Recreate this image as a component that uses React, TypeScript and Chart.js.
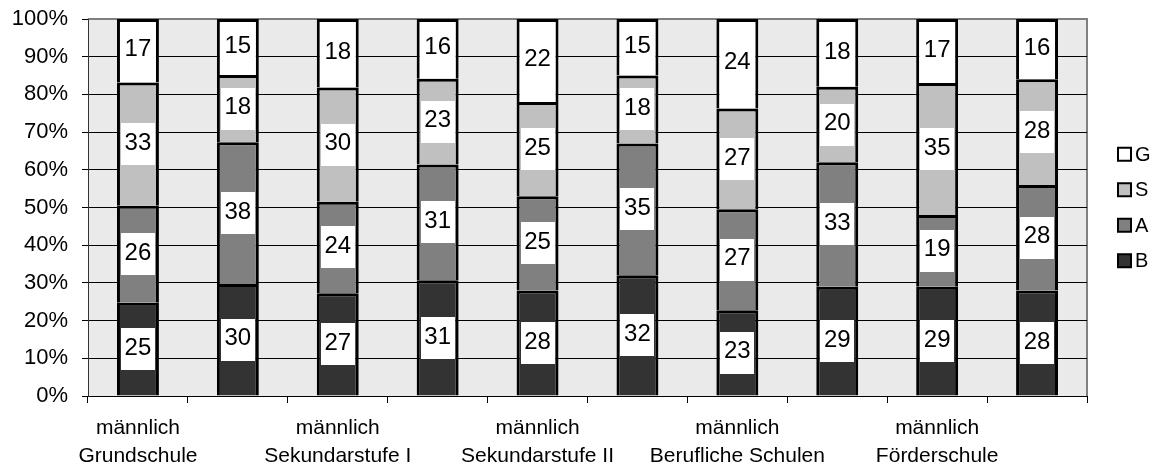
import React, { useEffect, useRef } from "react";
import { Chart, registerables } from "chart.js";

Chart.register(...registerables);

// Categories: each school type, split by gender
const schools = ["Grundschule", "Sekundarstufe I", "Sekundarstufe II", "Berufliche Schulen", "Förderschule"];
const genders = ["männlich", "weiblich"];
const categories: string[][] = schools.flatMap((s) => genders.map((g) => [g, s]));

// Shares per category (percent, rounded)
const seriesNames = ["B", "A", "S", "G"];
const valuesB = [25, 30, 27, 31, 28, 32, 23, 29, 29, 28];
const valuesA = [26, 38, 24, 31, 25, 35, 27, 33, 19, 28];
const valuesS = [33, 18, 30, 23, 25, 18, 27, 20, 35, 28];
const valuesG = [17, 15, 18, 16, 22, 15, 24, 18, 17, 16];
const seriesValues = [valuesB, valuesA, valuesS, valuesG];
const seriesColors = ["#333333", "#808080", "#c0c0c0", "#ffffff"];

const FONT = "'Liberation Sans', Arial, sans-serif";

// 100% stacking: each column is scaled to its own total
const totals = categories.map((_, i) => seriesValues.reduce((s, v) => s + v[i], 0));
const percentOf = (vals: number[]) => vals.map((v, i) => (v / totals[i]) * 100);

const plotBackground = {
  id: "plotBackground",
  beforeDraw(chart: any) {
    const { ctx, chartArea: a } = chart;
    ctx.save();
    ctx.fillStyle = "#eaeaea";
    ctx.fillRect(a.left, a.top, a.right - a.left, a.bottom - a.top);
    ctx.strokeStyle = "#808080";
    ctx.lineWidth = 2;
    ctx.beginPath();
    ctx.moveTo(a.left, a.top);
    ctx.lineTo(a.right, a.top);
    ctx.lineTo(a.right, a.bottom);
    ctx.stroke();
    ctx.restore();
  },
};

const valueBoxes = {
  id: "valueBoxes",
  afterDatasetsDraw(chart: any) {
    const { ctx } = chart;
    ctx.save();
    ctx.font = `24px ${FONT}`;
    ctx.textAlign = "center";
    ctx.textBaseline = "middle";
    chart.data.datasets.forEach((ds: any, di: number) => {
      const meta = chart.getDatasetMeta(di);
      meta.data.forEach((el: any, i: number) => {
        const c = el.getCenterPoint();
        const w = 34;
        const h = 42;
        ctx.fillStyle = "#ffffff";
        ctx.fillRect(Math.round(c.x - w / 2), Math.round(c.y - h / 2), w, h);
        ctx.fillStyle = "#000000";
        ctx.fillText(String(seriesValues[di][i]), c.x, c.y - 1);
      });
    });
    ctx.restore();
  },
};

const sideLegend = {
  id: "sideLegend",
  afterDraw(chart: any) {
    const { ctx, chartArea: a } = chart;
    const mid = (a.top + a.bottom) / 2;
    const step = 35.5;
    const n = seriesNames.length;
    ctx.save();
    ctx.font = `20px ${FONT}`;
    ctx.textAlign = "left";
    ctx.textBaseline = "middle";
    for (let k = 0; k < n; k++) {
      const di = n - 1 - k;
      const y = mid + (k - (n - 1) / 2) * step;
      const bx = a.right + 31;
      ctx.fillStyle = seriesColors[di];
      ctx.fillRect(bx, y - 6.5, 13, 13);
      ctx.strokeStyle = "#000000";
      ctx.lineWidth = 2;
      ctx.strokeRect(bx, y - 6.5, 13, 13);
      ctx.fillStyle = "#000000";
      ctx.fillText(seriesNames[di], bx + 17, y + 1);
    }
    ctx.restore();
  },
};

export default function App() {
  const canvasRef = useRef<HTMLCanvasElement | null>(null);

  useEffect(() => {
    if (!canvasRef.current) return;
    const chart = new Chart(canvasRef.current, {
      type: "bar",
      data: {
        labels: categories,
        datasets: seriesNames.map((name, di) => ({
          label: name,
          data: percentOf(seriesValues[di]),
          backgroundColor: seriesColors[di],
          borderColor: "#000000",
          borderWidth: 3,
          borderSkipped: "start",
          barPercentage: 0.42,
          categoryPercentage: 1,
        })),
      },
      options: {
        responsive: false,
        animation: false,
        layout: { padding: { top: 19, right: 75, left: 0, bottom: 0 } },
        plugins: {
          legend: { display: false },
          tooltip: { enabled: false },
        },
        scales: {
          x: {
            stacked: true,
            afterFit: (scale: any) => {
              scale.height = 71;
              scale.paddingLeft = 0;
              scale.paddingRight = 0;
            },
            grid: {
              offset: true,
              drawOnChartArea: false,
              drawTicks: true,
              tickLength: 7,
              color: "#000000",
            },
            border: { color: "#000000", width: 1 },
            ticks: {
              color: "#000000",
              font: { family: FONT, size: 21, lineHeight: 1.3 },
              maxRotation: 0,
              minRotation: 0,
              autoSkip: false,
              padding: 12,
              callback: function (this: any, _v: any, index: number) {
                return index % 2 === 0 ? categories[index] : "";
              },
            },
          },
          y: {
            stacked: true,
            min: 0,
            max: 100,
            afterFit: (scale: any) => {
              scale.width = 88;
              scale.paddingTop = 0;
              scale.paddingBottom = 0;
            },
            grid: {
              color: (c: any) => (c.tick && c.tick.value === 100 ? "#808080" : "#000000"),
              tickColor: "#000000",
              tickLength: 6,
              lineWidth: 1,
            },
            border: { color: "#333333", width: 1 },
            ticks: {
              stepSize: 10,
              color: "#000000",
              padding: 14,
              font: { family: FONT, size: 22 },
              callback: (v: any) => `${v}%`,
            },
          },
        },
      },
      plugins: [plotBackground, valueBoxes, sideLegend],
    });
    return () => chart.destroy();
  }, []);

  return (
    <div style={{ position: "fixed", left: 0, top: 0, width: 1162, height: 467, background: "#ffffff" }}>
      <canvas ref={canvasRef} width={1162} height={467} style={{ display: "block" }} />
    </div>
  );
}
